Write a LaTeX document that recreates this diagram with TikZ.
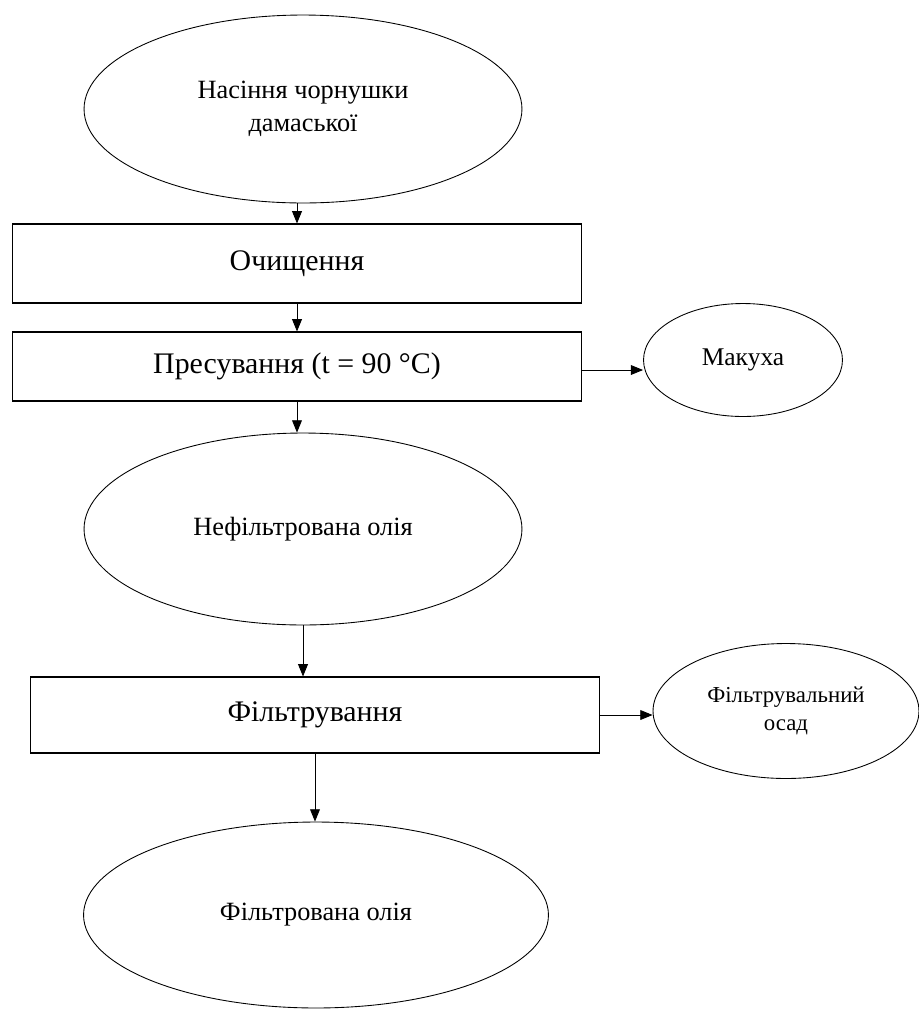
\documentclass[tikz,border=0pt]{standalone}
\usepackage{fontspec}
\setmainfont{Liberation Serif}
\usetikzlibrary{shapes.geometric,arrows.meta}
\tikzset{
  stage/.style={draw,rectangle,line width=0.6pt,inner sep=0pt,minimum width=11.4cm,font=\fontsize{17}{20}\selectfont},
  prod/.style={draw,ellipse,line width=0.5pt,inner sep=0pt,align=center,font=\fontsize{15}{17.5}\selectfont},
  arr/.style={-{Triangle[length=7pt,width=5.6pt]},line width=0.5pt},
}
\begin{document}
\begin{tikzpicture}[x=0.02cm,y=-0.02cm]
  \useasboundingbox (0,0) rectangle (919,1009);
  \node[prod,minimum width=8.76cm,minimum height=3.76cm] (seed) at (303,109) {Насіння чорнушки\\[1pt]дамаської};
  \node[stage,minimum height=1.58cm] (clean) at (297,263.5) {Очищення};
  \node[stage,minimum height=1.38cm] (press) at (297,366.5) {Пресування (t = 90 °C)};
  \node[prod,minimum width=3.98cm,minimum height=2.26cm,font=\fontsize{14.5}{17}\selectfont] (cake) at (743,360) {Макуха};
  \node[prod,minimum width=8.76cm,minimum height=3.84cm] (raw) at (303,529) {Нефільтрована олія};
  \node[stage,minimum height=1.52cm] (filt) at (315,715) {Фільтрування};
  \node[prod,minimum width=5.32cm,minimum height=2.7cm,font=\fontsize{13}{16}\selectfont] (sed) at (786,711) {Фільтрувальний\\осад};
  \node[prod,minimum width=9.3cm,minimum height=3.72cm] (oil) at (316,915) {Фільтрована олія};
  \draw[arr] (seed.south -| clean.north) -- (clean.north);
  \draw[arr] (clean) -- (press);
  \draw[arr] ([yshift=-0.07cm]press.east) -- ([yshift=-0.07cm]press.east -| cake.west);
  \draw[arr] (press.south) -- (press.south |- raw.north);
  \draw[arr] (raw.south) -- (raw.south |- filt.north);
  \draw[arr] (filt.east) -- (filt.east -| sed.west);
  \draw[arr] (filt.south) -- (filt.south |- oil.north);
\end{tikzpicture}
\end{document}
